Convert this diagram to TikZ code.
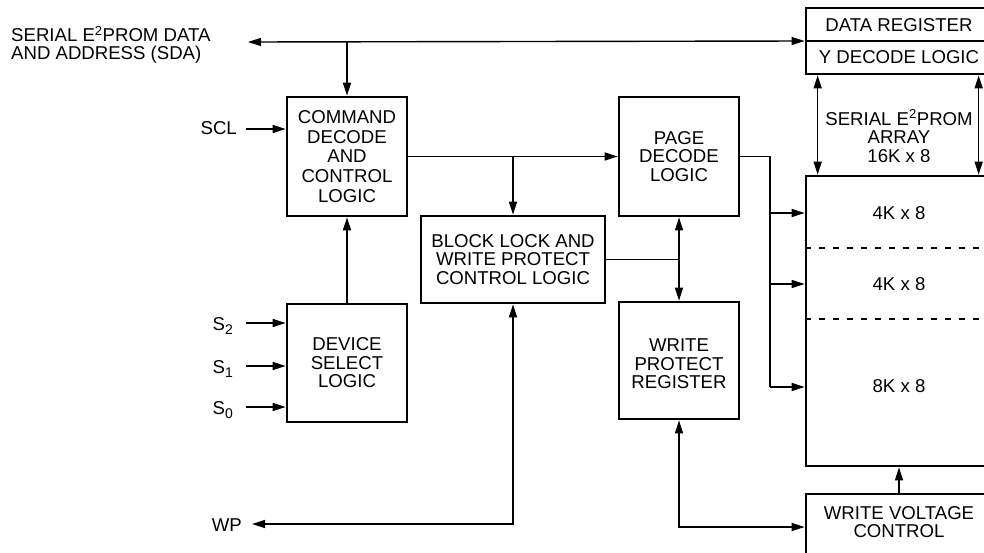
\documentclass[tikz,border=0pt]{standalone}
\usepackage{fontspec}
\setmainfont{Liberation Sans}
\usetikzlibrary{arrows.meta}
\newcommand\lblfont{\fontsize{18.6}{18.5}\selectfont}
\newcommand\subidx[1]{\raisebox{-4.5pt}{\fontsize{14}{14}\selectfont #1}}
\begin{document}
\begin{tikzpicture}[x=1pt,y=-1pt,
  >={Triangle[length=13pt,width=8pt]},
  box/.style={draw, line width=2.7pt, inner sep=0pt, align=center, font=\lblfont},
  conn/.style={line width=1.4pt},
  txt/.style={inner sep=0pt, align=center, font=\lblfont}]
\useasboundingbox (0,0) rectangle (984,552);
\clip (0,0) rectangle (984,552);

% boxes
\node[box, minimum width=120pt, minimum height=119pt,
      font=\fontsize{18.6}{19.8}\selectfont] (cmd) at (347,156.5)
      {COMMAND\\DECODE\\AND\\CONTROL\\LOGIC};
\node[box, minimum width=120pt, minimum height=118pt] (dev) at (347,363)
      {DEVICE\\SELECT\\LOGIC};
\node[box, minimum width=184pt, minimum height=87pt] (blk) at (513,259.5)
      {BLOCK LOCK AND\\WRITE PROTECT\\CONTROL LOGIC};
\node[box, minimum width=120pt, minimum height=119pt] (page) at (679,156.5)
      {PAGE\\DECODE\\LOGIC};
\node[box, minimum width=120pt, minimum height=117pt] (wpr) at (679,360.5) {};
\node[txt] (wprtxt) at (679,364) {WRITE\\PROTECT\\REGISTER};

\node[box, minimum width=186pt, minimum height=66pt] (dbox) at (899,41) {};
\draw[line width=1.4pt] (dbox.west) -- (dbox.east);
\node[txt] (dreg) at (899,25) {DATA REGISTER};
\node[txt] (ydec) at (899,57.5) {Y DECODE LOGIC};

\node[box, minimum width=186pt, minimum height=290pt] (arr) at (899,321) {};
\node[txt] (arrtxt) at (899,136) {SERIAL E\textsuperscript{2}PROM\\ARRAY\\16K x 8};
\node[txt] (a1) at (899,213) {4K x 8};
\node[txt] (a2) at (899,284.5) {4K x 8};
\node[txt] (a3) at (899,386) {8K x 8};
\draw[line width=1.3pt, dash pattern=on 6pt off 8pt] (arr.west |- 0,248) -- (arr.east |- 0,248);
\draw[line width=1.3pt, dash pattern=on 6pt off 8pt] (arr.west |- 0,319) -- (arr.east |- 0,319);

\node[box, minimum width=186pt, minimum height=66pt] (wvc) at (899,527) {};
\node[txt] (wvctxt) at (899,522) {WRITE VOLTAGE\\CONTROL};

% external labels
\node[inner sep=0pt, anchor=base west, align=left,
      font=\fontsize{18.6}{17.6}\selectfont] (sda) at (11,59.3)
      {SERIAL E\textsuperscript{2}PROM DATA\\AND ADDRESS (SDA)};
\node[inner sep=0pt, anchor=base east, font=\lblfont] (scl) at (237,134) {SCL};
\node[inner sep=0pt, anchor=base east, font=\lblfont] (s2) at (233,330) {S\subidx{2}};
\node[inner sep=0pt, anchor=base east, font=\lblfont] (s1) at (233,373) {S\subidx{1}};
\node[inner sep=0pt, anchor=base east, font=\lblfont] (s0) at (233,414) {S\subidx{0}};
\node[inner sep=0pt, anchor=base east, font=\lblfont] (wptxt) at (242,531) {WP};

% coordinates for free ends
\coordinate (sdaL) at (248,42);
\coordinate (sclL) at (246,129);
\coordinate (s2L) at (246,323);
\coordinate (s1L) at (246,366);
\coordinate (s0L) at (246,407);
\coordinate (wpL) at (252,524);
\coordinate (bus) at (770,156.5);
\coordinate (busB) at (770,387);

% connectors
\draw[conn,<->] (sdaL) -- (dbox.west);
\draw[conn,->] (cmd.north |- sdaL) -- (cmd.north);
\draw[conn,->] (sclL) -- (cmd.west |- sclL);
\draw[conn,->] (dev.north) -- (cmd.south);
\draw[conn,->] (s2L) -- (dev.west |- s2L);
\draw[conn,->] (s1L) -- (dev.west |- s1L);
\draw[conn,->] (s0L) -- (dev.west |- s0L);
\draw[conn,->] (cmd.east) -- (page.west);
\draw[conn,->] (blk.north |- cmd.east) -- (blk.north);
\draw[conn,<->] (page.south) -- (wpr.north);
\draw[conn] (blk.east) -- (page.south |- blk.east);
\draw[conn,<->] (blk.south) |- (wpL);
\draw[conn,<->] (wpr.south) |- (wvc.west);
\draw[conn,->] (wvc.north) -- (arr.south);
\draw[conn] (page.east) -- (bus) -- (busB);
\draw[conn,->] (bus |- 0,213) -- (arr.west |- 0,213);
\draw[conn,->] (bus |- 0,284) -- (arr.west |- 0,284);
\draw[conn,->] (busB) -- (arr.west |- busB);
\draw[conn,<->] ([xshift=13pt]dbox.south west) -- ([xshift=13pt]arr.north west);
\draw[conn,<->] ([xshift=174pt]dbox.south west) -- ([xshift=174pt]arr.north west);
\end{tikzpicture}
\end{document}
